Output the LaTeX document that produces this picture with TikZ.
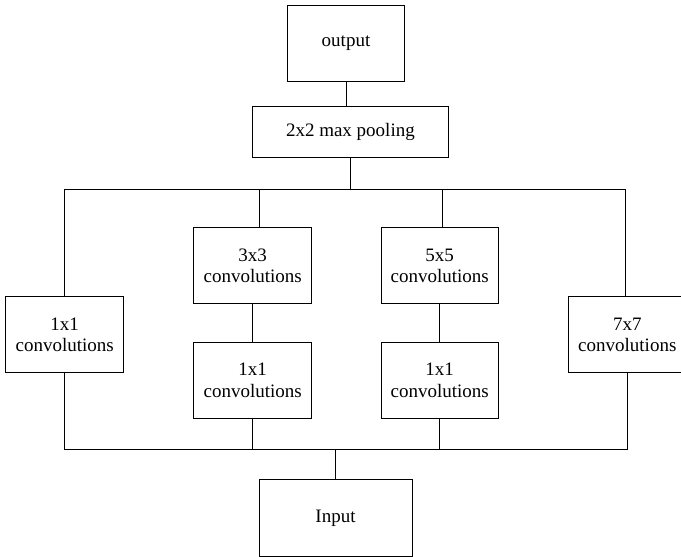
\documentclass[tikz,border=0pt]{standalone}
\usepackage{fontspec}
\setmainfont{Liberation Serif}

\begin{document}
\begin{tikzpicture}[x=1pt,y=-1pt,
		box/.style={draw,line width=0.9pt,inner sep=0pt,align=center,
			minimum width=118pt,minimum height=76pt,
			font=\fontsize{19}{21.5}\selectfont},
		wire/.style={line width=0.9pt}]
		\clip (0,0) rectangle (681,557);
		% top of the block
		\node[box,minimum width=116.5pt] (out) at (346,43) {output};
		\node[box,minimum width=196.5pt,minimum height=51.5pt] (pool) at (350.4,131.7) {2x2 max pooling};
		% branches
		\node[box] (c1) at (64.7,334.7) {1x1\\ convolutions};
		\node[box] (c3) at (252.7,265.8) {3x3\\ convolutions};
		\node[box] (r3) at (252.7,380.3) {1x1\\ convolutions};
		\node[box,minimum width=117.5pt] (c5) at (439.7,265.8) {5x5\\ convolutions};
		\node[box,minimum width=117.5pt] (r5) at (439.7,380.3) {1x1\\ convolutions};
		\node[box] (c7) at (627.3,334.7) {7x7\\ convolutions};
		\node[box,minimum width=153pt,minimum height=77pt] (in) at (335.5,518.2) {Input};
		% bus lines
		\coordinate (tbus) at (0,189.3);
		\coordinate (bbus) at (0,449.3);

		\draw[wire] (out.south) -- (out.south |- pool.north);
		\draw[wire] (pool.south) -- (pool.south |- tbus);
		\draw[wire] (c1.north) -- (c1.north |- tbus) -- ([xshift=-2pt]c7.north |- tbus) -- ([xshift=-2pt]c7.north);
		\draw[wire] ([xshift=6.6pt]c3.north) -- ([xshift=6.6pt]c3.north |- tbus);
		\draw[wire] ([xshift=2.3pt]c5.north) -- ([xshift=2.3pt]c5.north |- tbus);
		\foreach \n in {3,5} {
			\draw[wire] (c\n.south) -- (r\n.north);
			\draw[wire] (r\n.south) -- (r\n.south |- bbus);
		};
		\draw[wire] (c1.south) -- (c1.south |- bbus) -- (c7.south |- bbus) -- (c7.south);
		\draw[wire] (in.north) -- (in.north |- bbus);
	\end{tikzpicture}
\end{document}
